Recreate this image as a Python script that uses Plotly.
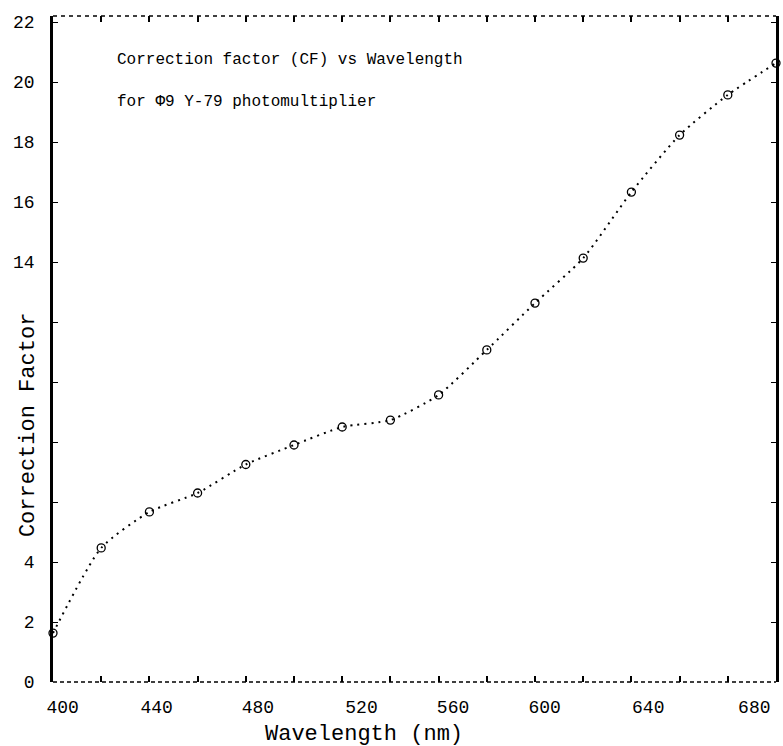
import plotly.graph_objects as go

# ---- data ----
wavelength = [400, 420, 440, 460, 480, 500, 520, 540, 560, 580, 600, 620, 640, 660, 680, 700]
cf = [1.63, 4.47, 5.67, 6.3, 7.25, 7.9, 8.5, 8.73, 9.57, 11.07, 12.63, 14.13, 16.33, 18.23, 19.57, 20.63]

x_tick_pos = [404, 443, 485, 528, 566, 604, 647, 691]
x_tick_text = ["400", "440", "480", "520", "560", "600", "640", "680"]
y_tick_vals = [0, 2, 4, 6, 8, 10, 12, 14, 16, 18, 20, 22]
y_tick_text = ["0", "2", "4", "", "", "", "", "14", "16", "18", "20", "22"]

title_lines = ["Correction factor (CF) vs Wavelength", "for \u03a69 Y-79 photomultiplier"]
x_title = "Wavelength (nm)"
y_title = "Correction Factor"

MONO = "Liberation Mono, DejaVu Sans Mono, monospace"

fig = go.Figure()
fig.add_trace(go.Scatter(
    x=wavelength, y=cf, mode="lines+markers",
    line=dict(color="black", width=2, dash="2px,5px", shape="spline", smoothing=0.6),
    marker=dict(symbol="circle-open", size=8, color="black", line=dict(width=1.3)),
    cliponaxis=False, showlegend=False,
))
# empty trace so the label axis is drawn
fig.add_trace(go.Scatter(x=[], y=[], xaxis="x2", showlegend=False, hoverinfo="skip"))

fig.update_layout(
    width=783, height=746,
    margin=dict(l=53, r=4, t=16, b=64),
    paper_bgcolor="white", plot_bgcolor="white",
    font=dict(family=MONO, color="black"),
    xaxis=dict(
        range=[400, 700], showgrid=False, zeroline=False, showline=False,
        tickmode="linear", tick0=400, dtick=20, ticks="inside", ticklen=6,
        tickwidth=1.5, tickcolor="black", showticklabels=False,
        mirror="allticks",
    ),
    xaxis2=dict(
        range=[400, 700], overlaying="x", side="bottom", showgrid=False,
        zeroline=False, showline=False,
        tickmode="array", tickvals=x_tick_pos, ticktext=x_tick_text,
        ticks="", tickfont=dict(size=18, family=MONO), ticklabelstandoff=12,
    ),
    yaxis=dict(
        range=[0, 22.2], showgrid=False, zeroline=False,
        showline=True, linecolor="black", linewidth=2.5, mirror="ticks",
        tickmode="array", tickvals=y_tick_vals, ticktext=y_tick_text,
        ticks="inside", ticklen=5, tickwidth=1.2, tickcolor="black",
        tickfont=dict(size=18, family=MONO), ticklabelstandoff=12,
    ),
    shapes=[
        dict(type="line", xref="paper", yref="paper", x0=0, x1=1, y0=1, y1=1,
             line=dict(color="black", width=1.3, dash="4px,4px")),
        dict(type="line", xref="paper", yref="paper", x0=0, x1=1, y0=0, y1=0,
             line=dict(color="black", width=1.3, dash="4px,3px")),
    ],
    annotations=[
        dict(text=title_lines[0], xref="paper", yref="paper", x=(115 - 53) / 726, y=1 - (60 - 16) / 666,
             xanchor="left", yanchor="middle", showarrow=False, font=dict(size=16, family=MONO)),
        dict(text=title_lines[1], xref="paper", yref="paper", x=(115 - 53) / 726, y=1 - (102 - 16) / 666,
             xanchor="left", yanchor="middle", showarrow=False, font=dict(size=16, family=MONO)),
        dict(text=x_title, xref="paper", yref="paper", x=(365 - 53) / 726, y=-(734 - 682) / 666,
             xanchor="center", yanchor="middle", showarrow=False, font=dict(size=22, family=MONO)),
        dict(text=y_title, xref="paper", yref="paper", x=-(53 - 28) / 726, y=1 - (425 - 16) / 666,
             xanchor="center", yanchor="middle", textangle=-90, showarrow=False,
             font=dict(size=22, family=MONO)),
    ],
)

fig.write_html("out.html")
